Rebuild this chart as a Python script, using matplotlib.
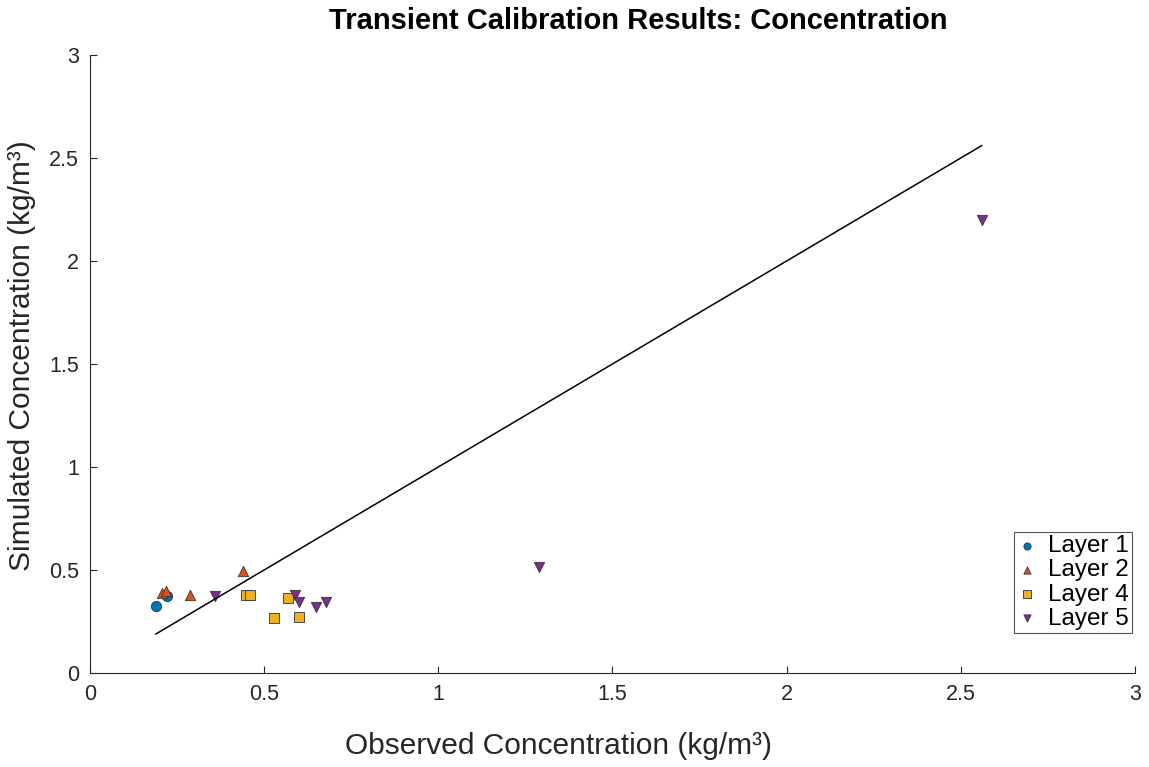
"""Scatter of simulated vs observed concentration for the transient calibration."""

import matplotlib
matplotlib.use("Agg")
import matplotlib.pyplot as plt
import numpy as np

plt.rcParams["font.family"] = ["Liberation Sans", "DejaVu Sans"]

# observed / simulated concentrations (kg/m3) per layer
layer1_obs = [0.189, 0.220]
layer1_sim = [0.325, 0.374]
layer2_obs = [0.208, 0.218, 0.288, 0.440]
layer2_sim = [0.390, 0.400, 0.380, 0.497]
layer4_obs = [0.448, 0.459, 0.569, 0.528, 0.599]
layer4_sim = [0.377, 0.377, 0.365, 0.267, 0.270]
layer5_obs = [0.360, 0.589, 0.600, 0.649, 0.679, 1.290, 2.560]
layer5_sim = [0.375, 0.378, 0.345, 0.320, 0.345, 0.515, 2.199]

layers = [
    ("Layer 1", layer1_obs, layer1_sim, "o", "#0072BD"),
    ("Layer 2", layer2_obs, layer2_sim, "^", "#D95319"),
    ("Layer 4", layer4_obs, layer4_sim, "s", "#EDB120"),
    ("Layer 5", layer5_obs, layer5_sim, "v", "#7E2F8E"),
]

INK = "#262626"

fig = plt.figure(figsize=(11.49, 7.67), dpi=100)
ax = fig.add_axes([0.0783, 0.1226, 0.9095, 0.8057])

for name, obs, sim, marker, color in layers:
    ax.scatter(obs, sim, s=55, marker=marker, facecolor=color,
               edgecolor="#333333", linewidths=0.6, label=name, zorder=2)

# 1:1 line spanning the observed range
all_obs = np.concatenate([layer1_obs, layer2_obs, layer4_obs, layer5_obs])
lo, hi = all_obs.min(), all_obs.max()
ax.plot([lo, hi], [lo, hi], color="black", linewidth=1.1, zorder=3)

ticks = [0, 0.5, 1, 1.5, 2, 2.5, 3]
tick_labels = ["0", "0.5", "1", "1.5", "2", "2.5", "3"]
ax.set_xlim(0, 3)
ax.set_ylim(0, 3)
ax.set_xticks(ticks)
ax.set_yticks(ticks)
ax.set_xticklabels(tick_labels)
ax.set_yticklabels(tick_labels)
ax.tick_params(direction="in", length=5, width=0.8, colors=INK,
               labelsize=15.5, pad=8)
for side in ("top", "right"):
    ax.spines[side].set_visible(False)
for side in ("left", "bottom"):
    ax.spines[side].set_color(INK)
    ax.spines[side].set_linewidth(0.8)

ax.set_xlabel("Observed Concentration (kg/m³)", fontsize=21.5, color=INK,
              va="center", ha="center")
ax.xaxis.set_label_coords(0.448, -0.118)
ax.set_ylabel("Simulated Concentration (kg/m³)", fontsize=21.5, color=INK,
              va="center", ha="center")
ax.yaxis.set_label_coords(-0.065, 0.513)

fig.text(0.5555, 0.972, "Transient Calibration Results: Concentration",
         fontsize=21, fontweight="bold", color="black", ha="center", va="center")

leg = ax.legend(loc="lower right", bbox_to_anchor=(0.9995, 0.06), fontsize=17.5,
                frameon=True, fancybox=False, markerscale=0.7,
                handlelength=0.8, handletextpad=0.45, borderpad=0.15,
                labelspacing=0.09, borderaxespad=0.1)
leg.get_frame().set_edgecolor(INK)
leg.get_frame().set_linewidth(0.8)
for t in leg.get_texts():
    t.set_color("black")

fig.savefig("out.png", dpi=100)
